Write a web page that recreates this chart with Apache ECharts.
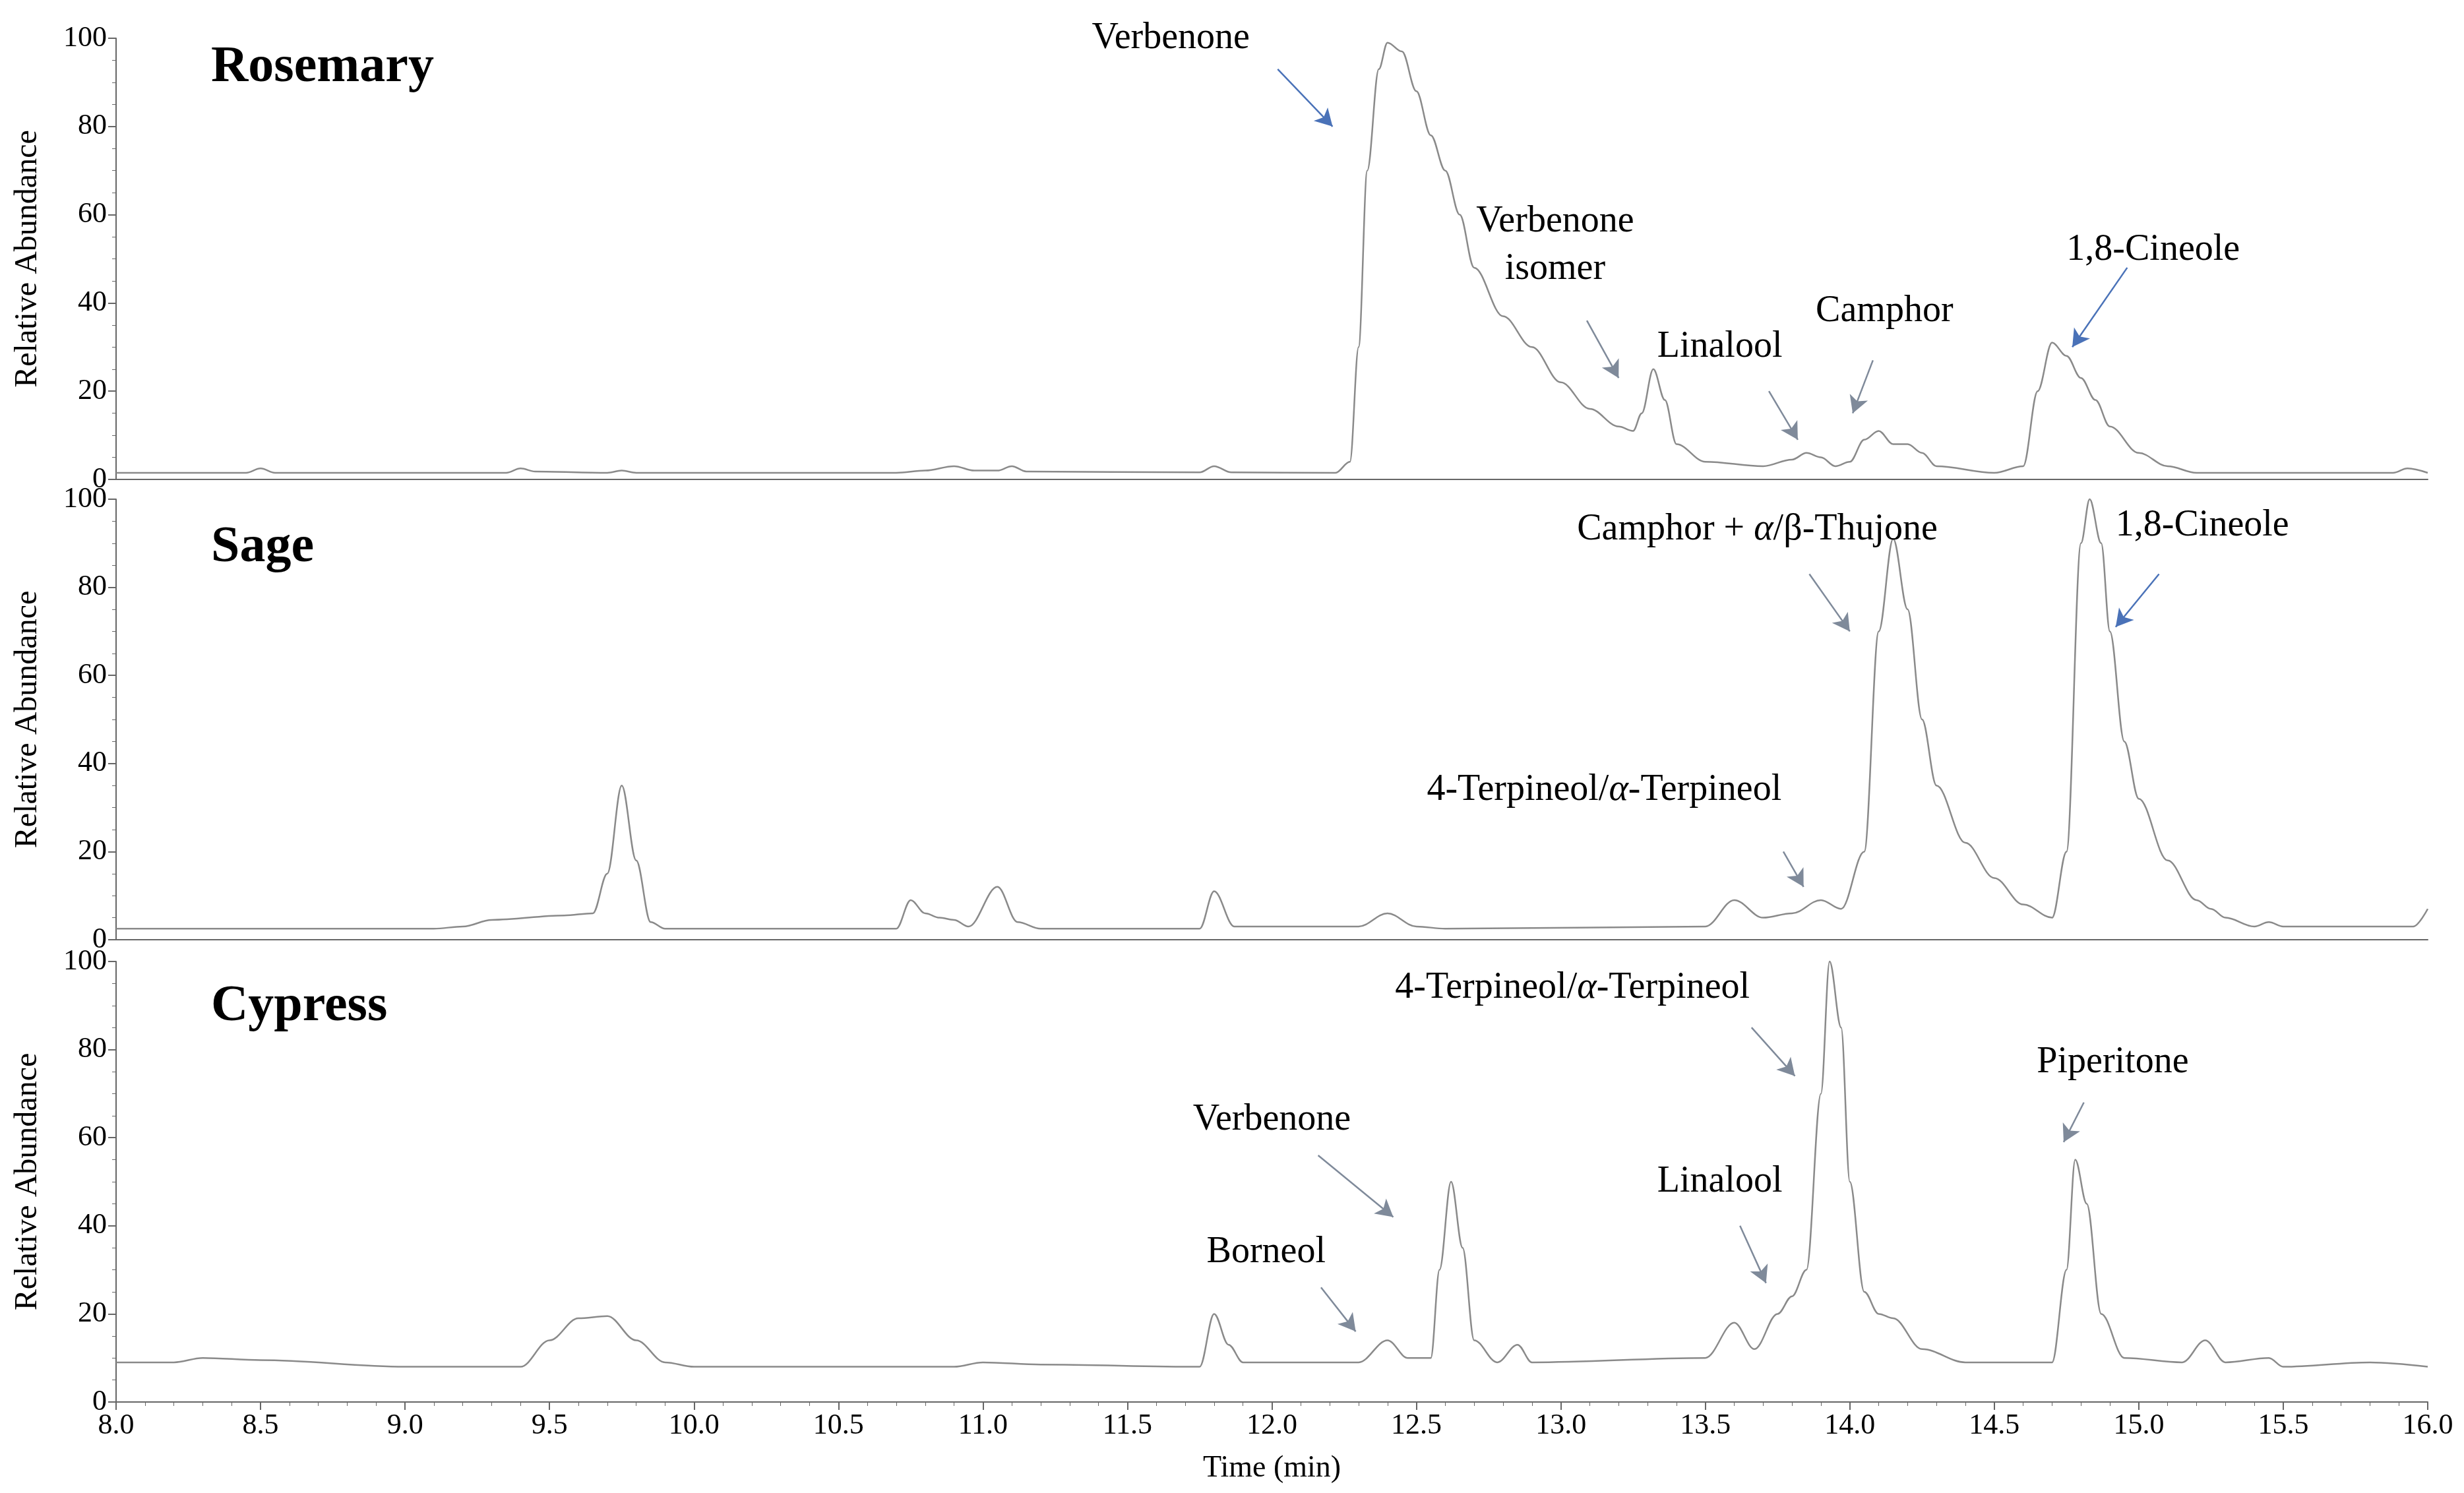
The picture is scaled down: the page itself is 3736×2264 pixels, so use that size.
<!DOCTYPE html>
<html><head><meta charset="utf-8">
<script src="https://cdn.jsdelivr.net/npm/echarts@6/dist/echarts.min.js"></script>
<style>html,body{margin:0;background:#fff}#c{width:3736px;height:2264px}</style>
</head><body><div id="c"></div>
<script>
const rosemary=[[8.0,1.5],[8.45,1.5],[8.5,2.5],[8.55,1.5],[9.35,1.5],[9.4,2.5],[9.45,1.8],[9.7,1.5],[9.75,2],[9.8,1.5],[10.7,1.5],[10.8,2],[10.9,3],[10.97,2],[11.05,2],[11.1,3],[11.15,1.8],[11.75,1.6],[11.8,3],[11.86,1.6],[12.22,1.5],[12.27,4],[12.3,30],[12.33,70],[12.37,93],[12.4,99],[12.45,97],[12.5,88],[12.55,78],[12.6,70],[12.65,60],[12.7,48],[12.8,37],[12.9,30],[13.0,22],[13.1,16],[13.2,12],[13.25,11],[13.28,15],[13.32,25],[13.36,18],[13.4,8],[13.5,4],[13.7,3],[13.8,4.5],[13.85,6],[13.9,5],[13.95,3],[14.0,4],[14.05,9],[14.1,11],[14.15,8],[14.2,8],[14.25,6],[14.3,3],[14.5,1.5],[14.6,3],[14.65,20],[14.7,31],[14.75,28],[14.8,23],[14.85,18],[14.9,12],[15.0,6],[15.1,3],[15.2,1.5],[15.88,1.5],[15.93,2.5],[16.0,1.5]];
const sage=[[8.0,2.5],[9.1,2.5],[9.2,3],[9.3,4.5],[9.55,5.5],[9.65,6],[9.7,15],[9.75,35],[9.8,18],[9.85,4],[9.9,2.5],[10.7,2.5],[10.75,9],[10.8,6],[10.85,5],[10.9,4.5],[10.95,3],[11.05,12],[11.12,4],[11.2,2.5],[11.75,2.5],[11.8,11],[11.87,3],[12.3,3],[12.4,6],[12.5,3],[12.6,2.5],[13.5,3],[13.6,9],[13.7,5],[13.8,6],[13.9,9],[13.97,7],[14.05,20],[14.1,70],[14.15,91],[14.2,75],[14.25,50],[14.3,35],[14.4,22],[14.5,14],[14.6,8],[14.7,5],[14.75,20],[14.8,90],[14.83,100],[14.87,90],[14.9,70],[14.95,45],[15.0,32],[15.1,18],[15.2,9],[15.25,7],[15.3,5],[15.4,3],[15.45,4],[15.5,3],[15.95,3],[16.0,7]];
const cypress=[[8.0,9],[8.2,9],[8.3,10],[8.5,9.5],[9.0,8],[9.4,8],[9.5,14],[9.6,19],[9.7,19.5],[9.8,14],[9.9,9],[10.0,8],[10.9,8],[11.0,9],[11.2,8.5],[11.75,8],[11.8,20],[11.85,13],[11.9,9],[12.3,9],[12.4,14],[12.47,10],[12.55,10],[12.58,30],[12.62,50],[12.66,35],[12.7,14],[12.78,9],[12.85,13],[12.9,9],[13.5,10],[13.6,18],[13.67,12],[13.75,20],[13.8,24],[13.85,30],[13.9,70],[13.93,100],[13.97,85],[14.0,50],[14.05,25],[14.1,20],[14.15,19],[14.25,12],[14.4,9],[14.7,9],[14.75,30],[14.78,55],[14.82,45],[14.87,20],[14.95,10],[15.15,9],[15.23,14],[15.3,9],[15.45,10],[15.5,8],[15.8,9],[16.0,8]];
const xTicks=[8,16,0.5];
const titles=['Rosemary','Sage','Cypress'];
const labels=[
 [['Verbenone',11.65,100],['Verbenone\nisomer',12.98,53],['Linalool',13.55,30],['Camphor',14.12,38],['1,8-Cineole',15.05,52]],
 [['Camphor + {i|α}/β-Thujone',13.68,93],['1,8-Cineole',15.22,94],['4-Terpineol/{i|α}-Terpineol',13.15,34]],
 [['4-Terpineol/{i|α}-Terpineol',13.04,94],['Piperitone',14.91,77],['Verbenone',12.0,64],['Borneol',11.98,34],['Linalool',13.55,50]]];
const arrows=[
 [[12.02,93,12.21,80,1],[13.09,36,13.2,23,0],[13.72,20,13.82,9,0],[14.08,27,14.01,15,0],[14.96,48,14.77,30,1]],
 [[13.86,83,14.0,70,0],[15.07,83,14.92,71,1],[13.77,20,13.84,12,0]],
 [[13.66,85,13.81,74,0],[14.81,68,14.74,59,0],[12.16,56,12.42,42,0],[12.17,26,12.29,16,0],[13.62,40,13.71,27,0]]];
const data=[rosemary,sage,cypress];
const F='Liberation Serif';
const tops=[58,757,1458],H=668;
const grid=[],xAxis=[],yAxis=[],series=[],graphic=[];
for(let i=0;i<3;i++){
 grid.push({left:176,right:55,top:tops[i],height:i==0?669:H});
 const last=i==2;
 xAxis.push({type:'value',gridIndex:i,min:xTicks[0],max:xTicks[1],interval:xTicks[2],
  axisLine:{lineStyle:{color:'#666',width:2}},axisTick:{show:last,length:12,lineStyle:{color:'#666',width:2}},
  minorTick:{show:last,splitNumber:5,length:6,lineStyle:{color:'#666'}},splitLine:{show:false},
  axisLabel:{show:last,color:'#000',fontSize:44,fontFamily:F,margin:14,formatter:v=>v.toFixed(1)},
  name:last?'Time (min)':'',nameLocation:'middle',nameGap:78,nameTextStyle:{fontSize:46,fontFamily:F,color:'#000'}});
 yAxis.push({type:'value',gridIndex:i,min:0,max:100,interval:20,
  axisLine:{show:true,lineStyle:{color:'#666',width:2}},axisTick:{show:true,length:12,lineStyle:{color:'#666',width:2}},
  minorTick:{show:true,splitNumber:4,length:6,lineStyle:{color:'#666'}},splitLine:{show:false},
  axisLabel:{color:'#000',fontSize:44,fontFamily:F,margin:14},
  name:'Relative Abundance',nameLocation:'middle',nameGap:110,nameTextStyle:{fontSize:48,fontFamily:F,color:'#000'}});
 series.push({type:'line',xAxisIndex:i,yAxisIndex:i,data:data[i],smooth:0.35,smoothMonotone:'x',showSymbol:false,clip:false,
  lineStyle:{color:'#8a8a8a',width:2.5},
  markPoint:{symbol:'rect',symbolSize:1,itemStyle:{color:'transparent'},
   data:labels[i].map(l=>({coord:[l[1],l[2]],value:l[0],label:{show:true,position:'inside',formatter:l[0],color:'#000',fontSize:56,fontFamily:F,lineHeight:72,
    rich:{i:{fontStyle:'italic',fontSize:56,fontFamily:F,color:'#000'}}}}))},
  markLine:{symbol:['none','arrow'],symbolSize:[22,26],silent:true,animation:false,label:{show:false},
   data:arrows[i].map(a=>[{coord:[a[0],a[1]],lineStyle:{color:a[4]?'#4a72b8':'#7f8a9a',width:2.5,type:'solid'}},{coord:[a[2],a[3]]}])}});
 graphic.push({type:'text',left:320,top:tops[i]+[6,35,30][i],style:{text:titles[i],font:'bold 78px "Liberation Serif"',fill:'#000'}});
}
const ch=echarts.init(document.getElementById('c'));
ch.setOption({animation:false,grid,xAxis,yAxis,series,graphic});
</script></body></html>
